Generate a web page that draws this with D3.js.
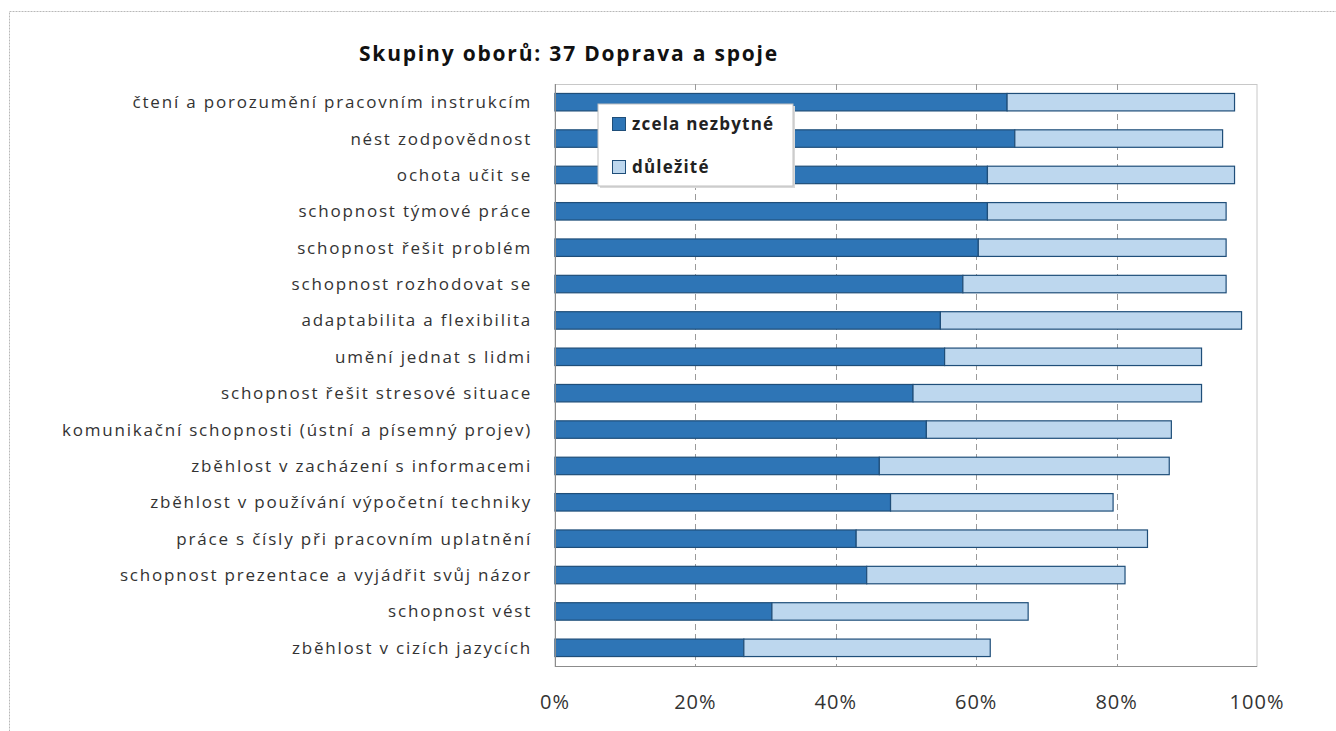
<!DOCTYPE html>
<html>
<head>
<meta charset="utf-8">
<script src="https://cdn.jsdelivr.net/npm/d3@7"></script>
<style>
  body { margin:0; background:#fff; }
  text { font-family: "Open Sans", "DejaVu Sans", sans-serif; }
</style>
</head>
<body>
<div id="chart"></div>
<script>
var categories = [
  "čtení a porozumění pracovním instrukcím",
  "nést zodpovědnost",
  "ochota učit se",
  "schopnost týmové práce",
  "schopnost řešit problém",
  "schopnost rozhodovat se",
  "adaptabilita a flexibilita",
  "umění jednat s lidmi",
  "schopnost řešit stresové situace",
  "komunikační schopnosti (ústní a písemný projev)",
  "zběhlost v zacházení s informacemi",
  "zběhlost v používání výpočetní techniky",
  "práce s čísly při pracovním uplatnění",
  "schopnost prezentace a vyjádřit svůj názor",
  "schopnost vést",
  "zběhlost v cizích jazycích"
];
var nezbytne = [64.4, 65.5, 61.6, 61.6, 60.3, 58.1, 54.9, 55.5, 51.0, 52.9, 46.2, 47.8, 42.9, 44.4, 30.9, 26.9];
var dulezite = [32.4, 29.6, 35.2, 34.0, 35.3, 37.5, 42.9, 36.6, 41.1, 34.9, 41.3, 31.7, 41.5, 36.8, 36.5, 35.1];
var seriesNames = ["zcela nezbytné", "důležité"];
var xTicks = [0, 20, 40, 60, 80, 100];

var W = 1336, H = 731;
var pLeft = 555, pRight = 1257, pTop = 84, pBottom = 666;
var colors = ["#2e75b6", "#bdd7ee"];

var svg = d3.select("#chart").append("svg").attr("width", W).attr("height", H);

// outer chart frame
svg.append("rect").attr("x", 9.5).attr("y", 11.5).attr("width", W).attr("height", H)
  .attr("fill", "none").attr("stroke", "#b8b8b8").attr("stroke-dasharray", "2,1");

var x = d3.scaleLinear().domain([0, 100]).range([pLeft, pRight]);
var y = d3.scaleBand().domain(categories).range([pTop, pBottom]).paddingInner(0.52).paddingOuter(0.26);

// plot area frame
svg.append("rect").attr("x", pLeft).attr("y", pTop + 0.5).attr("width", pRight - pLeft).attr("height", pBottom - pTop)
  .attr("fill", "none").attr("stroke", "#c8c8c8");

// gridlines
svg.append("g").selectAll("line").data(xTicks.slice(1, -1)).join("line")
  .attr("x1", d => Math.round(x(d)) + 0.5).attr("x2", d => Math.round(x(d)) + 0.5)
  .attr("y1", pTop).attr("y2", pBottom)
  .attr("stroke", "#9a9a9a").attr("stroke-dasharray", "6,4");

var rows = categories.map(function(c, i) {
  return { cat: c, parts: [[0, nezbytne[i]], [nezbytne[i], nezbytne[i] + dulezite[i]]] };
});

var g = svg.append("g");
rows.forEach(function(r) {
  r.parts.forEach(function(p, k) {
    g.append("rect")
      .attr("x", x(p[0])).attr("y", y(r.cat))
      .attr("width", x(p[1]) - x(p[0])).attr("height", y.bandwidth())
      .attr("fill", colors[k]).attr("stroke", "#1f4e79").attr("stroke-width", 1.2);
  });
});

// axes lines
svg.append("line").attr("x1", pLeft + 0.5).attr("x2", pLeft + 0.5).attr("y1", pTop).attr("y2", pBottom)
  .attr("stroke", "#8c8c8c");
svg.append("line").attr("x1", pLeft).attr("x2", pRight).attr("y1", pBottom + 0.5).attr("y2", pBottom + 0.5)
  .attr("stroke", "#8c8c8c");

// category labels
svg.append("g").selectAll("text").data(categories).join("text")
  .attr("x", 532).attr("y", d => y(d) + y.bandwidth() / 2)
  .attr("dy", "0.35em").attr("text-anchor", "end")
  .attr("font-size", 17).attr("letter-spacing", 1.8).attr("fill", "#333")
  .text(d => d);

// x tick labels
svg.append("g").selectAll("text").data(xTicks).join("text")
  .attr("x", d => x(d)).attr("y", 709)
  .attr("text-anchor", "middle").attr("font-size", 20).attr("letter-spacing", 1).attr("fill", "#333")
  .text(d => d + "%");

// title
svg.append("text").attr("x", 569).attr("y", 61).attr("text-anchor", "middle")
  .attr("font-size", 21).attr("font-weight", "bold").attr("letter-spacing", 1.8).attr("fill", "#111")
  .text("Skupiny oborů: 37 Doprava a spoje");

// legend
var lg = svg.append("g").attr("transform", "translate(598,104)");
lg.append("rect").attr("x", 2).attr("y", 2).attr("width", 195).attr("height", 82).attr("fill", "#d9d9d9");
lg.append("rect").attr("width", 195).attr("height", 82).attr("fill", "#fff").attr("stroke", "#c0c0c0");
seriesNames.forEach(function(s, k) {
  var yy = 14 + k * 43;
  lg.append("rect").attr("x", 14.5).attr("y", yy - 0.5).attr("width", 13).attr("height", 13)
    .attr("fill", colors[k]).attr("stroke", "#1f4e79");
  lg.append("text").attr("x", 34).attr("y", yy + 6).attr("dy", "0.35em")
    .attr("font-size", 17).attr("font-weight", "bold").attr("letter-spacing", 1.2).attr("fill", "#222").text(s);
});
</script>
</body>
</html>
